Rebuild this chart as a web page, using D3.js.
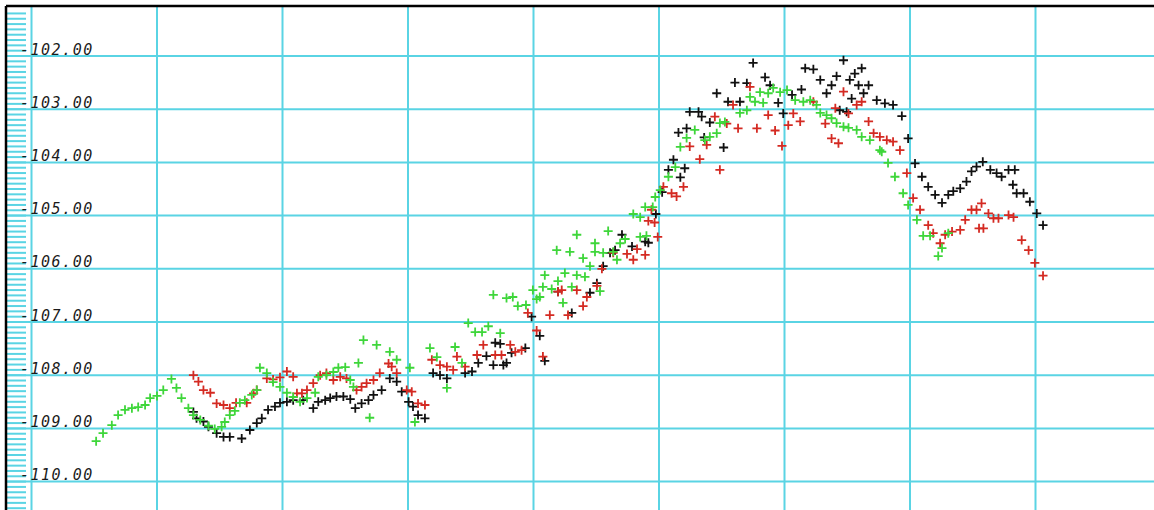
<!DOCTYPE html>
<html>
<head>
<meta charset="utf-8">
<script src="https://cdn.jsdelivr.net/npm/d3@7"></script>
<style>
  html, body { margin: 0; padding: 0; background: #fff; }
  svg { display: block; }
  .lbl { font-family: "DejaVu Sans Mono", monospace; font-style: oblique; font-size: 15px; letter-spacing: 1.5px; fill: #1a1a1a; }
</style>
</head>
<body>
<svg id="chart" width="1154" height="510"></svg>
<script>
// Horizontal axis: sample day (one vertical rule every 20 days)
const gridDays = [0, 20, 40, 60, 80, 100, 120, 140, 160];
// Vertical axis: level values with a rule and label on each
const levelTicks = [-102, -103, -104, -105, -106, -107, -108, -109, -110];
const levelLabels = ["-102.00", "-103.00", "-104.00", "-105.00", "-106.00", "-107.00", "-108.00", "-109.00", "-110.00"];

// Series readings: [day, level]
const blackSeries = [
  [25.8,-108.69],[26.3,-108.81],[27.4,-108.87],[28.2,-108.97],[29.5,-109.09],[30.6,-109.16],[31.6,-109.16],[33.5,-109.19],
  [34.8,-109.03],[35.9,-108.90],[36.7,-108.81],[37.7,-108.65],[38.8,-108.59],[39.6,-108.52],[40.7,-108.50],[41.7,-108.47],
  [43.3,-108.47],[44.9,-108.62],[45.7,-108.50],[46.8,-108.47],[47.6,-108.43],[48.6,-108.40],[49.7,-108.40],[50.8,-108.45],
  [51.6,-108.62],[52.6,-108.53],[53.7,-108.47],[54.5,-108.37],[55.8,-108.28],[57.1,-108.06],[58.2,-108.12],[59.0,-108.31],
  [60.1,-108.50],[60.8,-108.59],[61.6,-108.75],[62.7,-108.81],[64.0,-107.96],[65.1,-108.00],[66.2,-108.06],[69.1,-107.96],
  [70.2,-107.93],[71.2,-107.77],[72.5,-107.64],[73.6,-107.81],[73.9,-107.39],[74.7,-107.41],[75.2,-107.81],[75.7,-107.77],
  [76.5,-107.58],[78.7,-107.49],[79.7,-106.90],[81.0,-107.26],[81.8,-107.73],[83.9,-106.43],[86.1,-106.83],[89.0,-106.45],
  [90.1,-106.27],[91.1,-105.95],[92.2,-105.70],[93.0,-105.65],[94.1,-105.36],[95.7,-105.58],[97.8,-105.49],[98.3,-105.51],
  [99.5,-104.97],[100.5,-104.56],[101.5,-104.14],[102.3,-103.95],[103.1,-103.44],[103.4,-104.28],[104.1,-104.11],[104.4,-103.36],
  [104.9,-103.05],[106.3,-103.05],[106.8,-103.14],[107.2,-103.53],[108.1,-103.25],[109.2,-102.70],[110.3,-103.72],[111.0,-102.86],
  [112.1,-102.50],[112.9,-102.86],[114.0,-102.51],[115.0,-102.13],[116.9,-102.40],[117.7,-102.55],[119.0,-102.88],[119.8,-103.08],
  [121.2,-102.73],[122.7,-102.63],[123.3,-102.23],[124.6,-102.25],[125.7,-102.45],[126.7,-102.70],[127.5,-102.55],[128.3,-102.38],
  [128.8,-103.02],[129.4,-102.08],[129.9,-103.05],[130.4,-102.45],[130.7,-102.80],[131.2,-102.33],[131.8,-102.55],[132.3,-102.23],
  [132.6,-102.70],[133.4,-102.55],[134.7,-102.83],[136.0,-102.89],[137.3,-102.92],[138.7,-103.13],[139.7,-103.55],[140.8,-104.02],
  [141.9,-104.27],[142.9,-104.46],[144.0,-104.61],[145.1,-104.76],[146.1,-104.61],[146.9,-104.54],[148.0,-104.49],[149.0,-104.36],
  [149.8,-104.17],[150.6,-104.08],[151.6,-103.99],[152.8,-104.14],[153.8,-104.20],[154.6,-104.27],[155.7,-104.14],[156.4,-104.42],
  [156.7,-104.14],[157.0,-104.58],[158.1,-104.58],[159.1,-104.74],[160.2,-104.96],[161.2,-105.18]
];

const redSeries = [
  [25.8,-108.00],[26.6,-108.12],[27.4,-108.28],[28.5,-108.33],[29.5,-108.53],[30.6,-108.56],[31.6,-108.62],[32.6,-108.52],
  [34.3,-108.52],[35.4,-108.34],[35.9,-108.28],[37.5,-108.06],[38.5,-108.08],[39.6,-108.04],[40.7,-107.93],[41.7,-108.03],
  [42.3,-108.34],[43.1,-108.34],[43.9,-108.28],[44.9,-108.15],[46.0,-108.00],[47.0,-107.96],[48.1,-108.09],[49.2,-108.03],
  [50.2,-108.06],[51.8,-108.28],[52.6,-108.22],[53.4,-108.15],[54.5,-108.09],[55.5,-107.96],[56.9,-107.78],[57.4,-107.84],
  [58.2,-107.96],[59.8,-108.28],[60.6,-108.31],[61.6,-108.53],[62.7,-108.56],[63.8,-107.71],[65.1,-107.81],[66.2,-107.84],
  [67.2,-107.90],[67.8,-107.65],[69.1,-107.84],[71.0,-107.62],[72.0,-107.43],[73.9,-107.62],[74.9,-107.62],[76.3,-107.43],
  [77.1,-107.56],[78.1,-107.53],[79.1,-106.83],[80.5,-107.16],[81.5,-107.65],[82.6,-106.87],[83.9,-106.43],[84.5,-106.40],
  [85.5,-106.87],[86.9,-106.40],[87.9,-106.70],[88.5,-106.53],[90.1,-106.32],[90.9,-106.00],[92.7,-105.70],[94.9,-105.72],
  [95.9,-105.83],[96.5,-105.63],[97.8,-105.74],[98.3,-105.10],[98.8,-104.89],[99.3,-105.13],[99.8,-105.40],[100.7,-104.46],
  [102.0,-104.58],[102.8,-104.64],[103.9,-104.46],[104.9,-103.70],[106.5,-103.94],[107.6,-103.67],[108.9,-103.14],[109.7,-104.14],
  [110.8,-103.27],[111.8,-102.92],[112.6,-103.36],[114.5,-102.58],[115.6,-103.36],[117.4,-103.11],[118.5,-103.40],[119.6,-103.69],
  [120.6,-103.30],[121.4,-103.08],[122.5,-103.23],[124.6,-102.86],[126.5,-103.27],[127.5,-103.55],[128.1,-102.98],[128.6,-103.64],
  [129.4,-102.67],[130.2,-103.08],[131.5,-102.92],[132.3,-102.86],[133.4,-103.23],[134.2,-103.45],[135.2,-103.52],[136.3,-103.58],
  [137.3,-103.61],[138.4,-103.77],[139.5,-104.20],[140.5,-104.67],[141.6,-104.89],[142.9,-105.18],[143.7,-105.33],[144.8,-105.52],
  [145.6,-105.36],[146.7,-105.30],[148.0,-105.27],[148.8,-105.08],[149.8,-104.89],[150.6,-104.89],[151.0,-105.24],[151.4,-104.77],
  [151.7,-105.24],[152.5,-104.96],[153.3,-105.05],[154.1,-105.05],[155.7,-104.99],[156.5,-105.03],[157.8,-105.46],[158.9,-105.65],
  [159.9,-105.89],[161.2,-106.13]
];

const greenSeries = [
  [10.3,-109.24],[11.4,-109.09],[12.8,-108.94],[13.8,-108.75],[14.9,-108.65],[16.0,-108.62],[17.0,-108.60],[18.1,-108.56],
  [18.9,-108.43],[20.0,-108.39],[21.0,-108.28],[22.3,-108.07],[23.1,-108.24],[23.9,-108.43],[25.0,-108.62],[25.8,-108.75],
  [26.9,-108.84],[28.2,-108.95],[29.2,-109.01],[30.3,-108.97],[30.8,-108.88],[31.6,-108.75],[32.4,-108.67],[33.2,-108.52],
  [34.0,-108.47],[35.1,-108.37],[35.9,-108.28],[36.4,-107.86],[37.5,-107.96],[38.5,-108.13],[39.6,-108.22],[40.7,-108.33],
  [41.7,-108.41],[42.8,-108.50],[43.9,-108.43],[45.2,-108.33],[45.7,-108.03],[47.0,-108.00],[48.1,-107.94],[48.9,-107.86],
  [50.0,-107.85],[50.8,-108.09],[51.3,-108.22],[52.1,-107.77],[52.9,-107.34],[53.9,-108.80],[55.0,-107.43],[57.1,-107.56],
  [58.2,-107.71],[60.3,-107.86],[61.1,-108.88],[63.5,-107.49],[64.6,-107.66],[66.2,-108.24],[67.5,-107.47],[68.6,-107.77],
  [69.6,-107.02],[70.7,-107.19],[71.8,-107.19],[72.8,-107.08],[73.6,-106.49],[74.7,-107.21],[75.7,-106.55],[76.7,-106.53],
  [77.5,-106.70],[78.8,-106.68],[79.9,-106.40],[80.5,-106.57],[81.0,-106.53],[81.5,-106.34],[81.8,-106.12],[82.9,-106.38],
  [83.7,-105.65],[83.9,-106.23],[84.7,-106.64],[85.0,-106.08],[85.8,-105.68],[86.1,-106.34],[86.9,-105.36],[86.9,-106.12],
  [87.9,-105.80],[88.2,-106.15],[89.0,-105.95],[89.8,-105.52],[89.8,-105.68],[90.6,-106.42],[91.1,-105.70],[91.9,-105.29],
  [92.7,-105.68],[93.3,-105.83],[93.8,-105.52],[94.6,-105.44],[95.9,-104.97],[97.0,-105.03],[97.0,-105.40],[97.8,-104.84],
  [98.0,-105.38],[99.0,-104.84],[99.4,-104.65],[100.2,-104.52],[101.5,-104.27],[102.6,-104.09],[103.4,-103.71],[104.4,-103.54],
  [105.7,-103.39],[107.3,-103.58],[108.1,-103.52],[109.2,-103.45],[109.7,-103.26],[110.5,-103.24],[112.9,-103.07],[114.0,-103.02],
  [114.5,-102.77],[115.3,-102.86],[116.1,-102.68],[116.6,-102.88],[117.4,-102.70],[118.2,-102.60],[119.3,-102.68],[120.4,-102.64],
  [121.7,-102.83],[123.0,-102.86],[124.1,-102.83],[125.1,-102.92],[125.7,-103.07],[126.7,-103.11],[127.5,-103.17],[128.3,-103.26],
  [129.4,-103.33],[130.2,-103.35],[131.5,-103.39],[132.3,-103.52],[133.6,-103.58],[135.2,-103.77],[135.5,-103.80],[136.5,-104.01],
  [137.6,-104.27],[138.9,-104.58],[139.7,-104.80],[141.1,-105.08],[142.1,-105.38],[143.2,-105.38],[144.5,-105.76],[145.1,-105.61],
  [146.1,-105.33]
];

const W = 1154, H = 510;
const frameLeft = 6, frameTop = 6;
const gridColor = "#5ad4e4";

const x = d3.scaleLinear().domain([0, 180]).range([31.5, 1161]);
const y = d3.scaleLinear().domain([-110, -102]).range([481.6, 56]);

const svg = d3.select("#chart");
svg.append("rect").attr("width", W).attr("height", H).attr("fill", "#fff");

// Fine ruler along the left edge: one notch per tenth of a unit
const rulerTicks = d3.range(-1106, -1009).map(v => v / 10).filter(v => y(v) > frameTop + 3 && y(v) < H);
svg.append("g").selectAll("line").data(rulerTicks).join("line")
  .attr("x1", frameLeft).attr("x2", 26)
  .attr("y1", d => y(d)).attr("y2", d => y(d))
  .attr("stroke", gridColor).attr("stroke-width", 2);

// Horizontal rules
svg.append("g").selectAll("line").data(levelTicks).join("line")
  .attr("x1", frameLeft).attr("x2", W)
  .attr("y1", d => y(d)).attr("y2", d => y(d))
  .attr("stroke", gridColor).attr("stroke-width", 2);

// Vertical rules
svg.append("g").selectAll("line").data(gridDays).join("line")
  .attr("x1", d => x(d)).attr("x2", d => x(d))
  .attr("y1", frameTop).attr("y2", H)
  .attr("stroke", gridColor).attr("stroke-width", 2);

// Level labels, sitting just above each rule
svg.append("g").selectAll("text").data(levelTicks).join("text")
  .attr("class", "lbl")
  .attr("x", 20)
  .attr("y", d => y(d) - 1.5)
  .text((d, i) => levelLabels[i]);

// Frame: top and left edges
svg.append("line").attr("x1", frameLeft).attr("x2", W).attr("y1", frameTop).attr("y2", frameTop)
  .attr("stroke", "#000").attr("stroke-width", 2.5);
svg.append("line").attr("x1", frameLeft).attr("x2", frameLeft).attr("y1", frameTop).attr("y2", H)
  .attr("stroke", "#000").attr("stroke-width", 2.5);

// Plus markers for each series
const plus = "M-4.5,0H4.5M0,-4.5V4.5";
function drawSeries(data, color) {
  svg.append("g").selectAll("path").data(data).join("path")
    .attr("d", plus)
    .attr("transform", d => `translate(${x(d[0])},${y(d[1])})`)
    .attr("fill", "none")
    .attr("stroke", color)
    .attr("stroke-width", 1.8);
}
drawSeries(blackSeries, "#111");
drawSeries(redSeries, "#d42a22");
drawSeries(greenSeries, "#3ed63a");
</script>
</body>
</html>
